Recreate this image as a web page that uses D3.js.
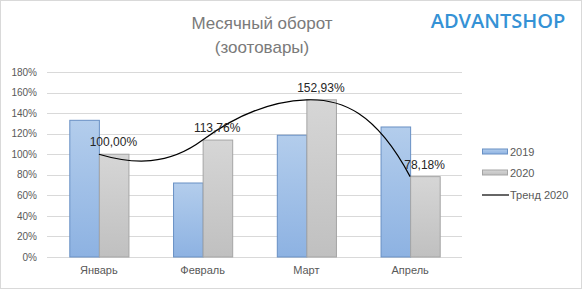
<!DOCTYPE html>
<html>
<head>
<meta charset="utf-8">
<script src="https://cdn.jsdelivr.net/npm/d3@7"></script>
<style>
  body { margin: 0; background: #fff; }
  svg { display: block; font-family: "Liberation Sans", Arial, sans-serif; }
</style>
</head>
<body>
<div id="chart"></div>
<script>
// data
var months = ["Январь", "Февраль", "Март", "Апрель"];
var series = ["2019", "2020"];
var values2019 = [133, 72, 118.5, 126.5];
var values2020 = [100, 113.76, 152.93, 78.18];
var trendName = "Тренд 2020";
var trendLabels = ["100,00%", "113,76%", "152,93%", "78,18%"];
// tangent of the smooth line at each month, % per month
var trendSlope = [-30, 75, 4, -190];
var yTicks = [0, 20, 40, 60, 80, 100, 120, 140, 160, 180];

var width = 582, height = 289;

var svg = d3.select("#chart").append("svg")
    .attr("width", width)
    .attr("height", height);

var defs = svg.append("defs");
function grad(id, top, bottom) {
    var g = defs.append("linearGradient").attr("id", id)
        .attr("x1", 0).attr("y1", 0).attr("x2", 0).attr("y2", 1);
    g.append("stop").attr("offset", "0%").attr("stop-color", top);
    g.append("stop").attr("offset", "100%").attr("stop-color", bottom);
}
grad("gBlue", "#b3cdec", "#8db2e2");
grad("gGray", "#d6d6d6", "#c0c0c0");

svg.append("rect")
    .attr("x", 0.5).attr("y", 0.5)
    .attr("width", width - 1).attr("height", height - 1)
    .style("fill", "#fff")
    .style("stroke", "#d9d9d9");

// title + logo
svg.append("text")
    .attr("x", 262).attr("y", 29)
    .attr("text-anchor", "middle")
    .style("font-size", "17px")
    .style("fill", "#7a7a7a")
    .text("Месячный оборот");
svg.append("text")
    .attr("x", 262).attr("y", 53)
    .attr("text-anchor", "middle")
    .style("font-size", "17px")
    .style("fill", "#7a7a7a")
    .text("(зоотовары)");
svg.append("text")
    .attr("x", 498).attr("y", 28)
    .attr("text-anchor", "middle")
    .style("font-family", "'Open Sans', sans-serif")
    .style("font-weight", "600")
    .style("font-size", "20px")
    .style("fill", "#3592d5")
    .text("ADVANTSHOP");

var x = d3.scaleBand()
    .domain(months)
    .range([47, 462])
    .paddingInner(0.43)
    .paddingOuter(0.215);

var xs = d3.scaleBand()
    .domain(series)
    .range([0, x.bandwidth()]);

var y = d3.scaleLinear()
    .domain([0, 180])
    .range([257, 72]);

// grid
svg.append("g")
    .selectAll("line")
    .data(yTicks)
    .enter().append("line")
      .attr("x1", 47).attr("x2", 462)
      .attr("y1", function(d){ return Math.round(y(d)) + 0.5; })
      .attr("y2", function(d){ return Math.round(y(d)) + 0.5; })
      .style("stroke", "#d9d9d9");

var yAxis = d3.axisLeft(y).tickValues(yTicks)
    .tickSize(0).tickPadding(0)
    .tickFormat(function(d){ return d + "%"; });
svg.append("g")
    .attr("transform", "translate(37,0)")
    .call(yAxis)
    .call(function(g){ g.select(".domain").remove(); })
    .selectAll("text")
      .style("font-family", "'Liberation Sans', Arial, sans-serif")
      .style("font-size", "10px")
      .style("fill", "#595959");

var xAxis = d3.axisBottom(x).tickSize(0).tickPadding(0);
svg.append("g")
    .attr("transform", "translate(0,266)")
    .call(xAxis)
    .call(function(g){ g.select(".domain").remove(); })
    .selectAll("text")
      .style("font-family", "'Liberation Sans', Arial, sans-serif")
      .style("font-size", "11px")
      .style("fill", "#595959");

// bars
var rows = months.map(function(m, i){
    return { month: m, vals: [values2019[i], values2020[i]] };
});
var fills = ["url(#gBlue)", "url(#gGray)"];
var strokes = ["#6890c4", "#a5a5a5"];

svg.append("g").selectAll("g")
    .data(rows)
    .enter().append("g")
      .attr("transform", function(d){ return "translate(" + x(d.month) + ",0)"; })
    .selectAll("rect")
    .data(function(d){ return d.vals.map(function(v, j){ return { s: series[j], v: v, j: j }; }); })
    .enter().append("rect")
      .attr("x", function(d){ return xs(d.s) + 0.5; })
      .attr("y", function(d){ return y(d.v); })
      .attr("width", xs.bandwidth())
      .attr("height", function(d){ return y(0) - y(d.v); })
      .style("fill", function(d){ return fills[d.j]; })
      .style("stroke", function(d){ return strokes[d.j]; });

// smooth trend line through 2020 values at category centres
var cx = function(m){ return x(m) + x.bandwidth() / 2; };
var p = d3.path();
months.forEach(function(m, i){
    if (i === 0) { p.moveTo(cx(m), y(values2020[0])); return; }
    var m0 = months[i - 1], dx = cx(m) - cx(m0);
    p.bezierCurveTo(
        cx(m0) + dx / 3, y(values2020[i - 1] + trendSlope[i - 1] / 3),
        cx(m) - dx / 3, y(values2020[i] - trendSlope[i] / 3),
        cx(m), y(values2020[i]));
});
svg.append("path")
    .attr("d", p.toString())
    .style("fill", "none")
    .style("stroke", "#000")
    .style("stroke-width", 1.2);

svg.append("g").selectAll("text")
    .data(months)
    .enter().append("text")
      .attr("x", function(d){ return cx(d) + 14.5; })
      .attr("y", function(d, i){ return y(values2020[i]) - 8; })
      .attr("text-anchor", "middle")
      .style("font-size", "12px")
      .style("fill", "#262626")
      .text(function(d, i){ return trendLabels[i]; });

// legend
var lg = svg.append("g").attr("transform", "translate(482,0)");
var legendY = [151.5, 172.5, 195];
series.forEach(function(s, i){
    lg.append("rect")
        .attr("x", 0.5).attr("y", legendY[i] - 2.5)
        .attr("width", 25).attr("height", 5)
        .style("fill", fills[i])
        .style("stroke", strokes[i]);
    lg.append("text")
        .attr("x", 28).attr("y", legendY[i] + 4)
        .style("font-size", "11px")
        .style("fill", "#595959")
        .text(s);
});
lg.append("line")
    .attr("x1", 0).attr("x2", 27)
    .attr("y1", legendY[2]).attr("y2", legendY[2])
    .style("stroke", "#000")
    .style("stroke-width", 1.2);
lg.append("text")
    .attr("x", 28).attr("y", legendY[2] + 4)
    .style("font-size", "11px")
    .style("fill", "#595959")
    .text(trendName);
</script>
</body>
</html>
